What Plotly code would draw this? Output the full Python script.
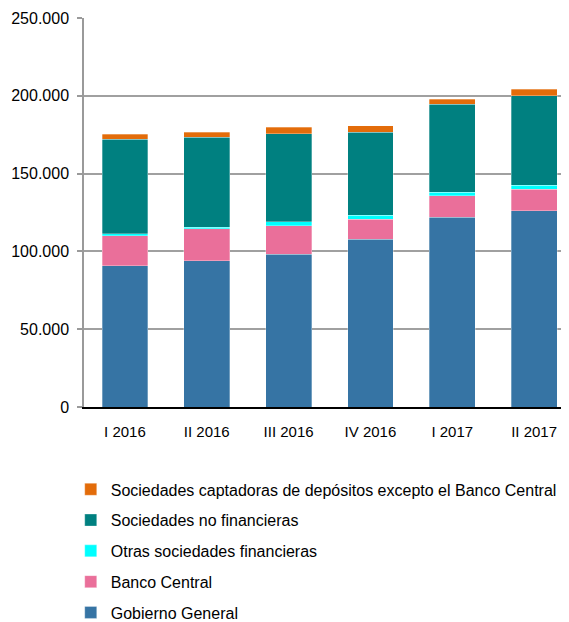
import plotly.graph_objects as go

categories = ["I 2016", "II 2016", "III 2016", "IV 2016", "I 2017", "II 2017"]
gobierno_general = [90800, 94000, 98300, 107900, 121900, 126100]
banco_central = [19200, 20400, 18200, 12900, 13900, 14000]
otras_sociedades_financieras = [1200, 1200, 2400, 2400, 2300, 2300]
sociedades_no_financieras = [61000, 57700, 56700, 53300, 56600, 57600]
sociedades_captadoras = [3200, 3200, 4300, 4200, 3200, 4300]

series = [
    ("Gobierno General", gobierno_general, "#3674A4"),
    ("Banco Central", banco_central, "#EA6F9A"),
    ("Otras sociedades financieras", otras_sociedades_financieras, "#00FFFF"),
    ("Sociedades no financieras", sociedades_no_financieras, "#008080"),
    ("Sociedades captadoras de depósitos excepto el Banco Central", sociedades_captadoras, "#E36C0A"),
]

fig = go.Figure()
n = len(series)
for i, (name, vals, color) in enumerate(series):
    fig.add_trace(go.Bar(
        x=categories, y=vals, name=name,
        marker=dict(color=color, line=dict(color="rgba(255,255,255,0.6)", width=0.5)),
        width=0.56, legendgroup=f"g{i}", legendrank=n - i,
    ))

font = "Liberation Sans, Arial, sans-serif"
fig.update_layout(
    barmode="stack",
    width=569, height=622,
    margin=dict(l=76, r=2, t=10, b=223, autoexpand=False),
    plot_bgcolor="white", paper_bgcolor="white",
    separators=",.",
    font=dict(family=font, size=15, color="#000000"),
    showlegend=True,
    legend=dict(
        orientation="v", traceorder="grouped", tracegroupgap=7,
        x=-0.027, y=-0.168, xanchor="left", yanchor="top",
        font=dict(family=font, size=16, color="#000000"),
        itemwidth=30,
    ),
    xaxis=dict(
        range=[-0.5, 5.5], showline=True, linecolor="#000000", linewidth=1.5,
        ticks="", showgrid=False, ticklabelstandoff=10, automargin=False,
        tickfont=dict(family=font, size=15),
    ),
    yaxis=dict(
        range=[0, 250000], tickvals=[0, 50000, 100000, 150000, 200000, 250000],
        tickformat=",d", showline=True, linecolor="#9a9a9a", linewidth=1.5,
        ticks="outside", ticklen=5, tickcolor="#9a9a9a", tickwidth=1.5,
        showgrid=True, gridcolor="#a0a0a0", gridwidth=1.5, automargin=False,
        zeroline=False, tickfont=dict(family=font, size=16), ticklabelstandoff=5,
    ),
)

fig.write_html("out.html")
